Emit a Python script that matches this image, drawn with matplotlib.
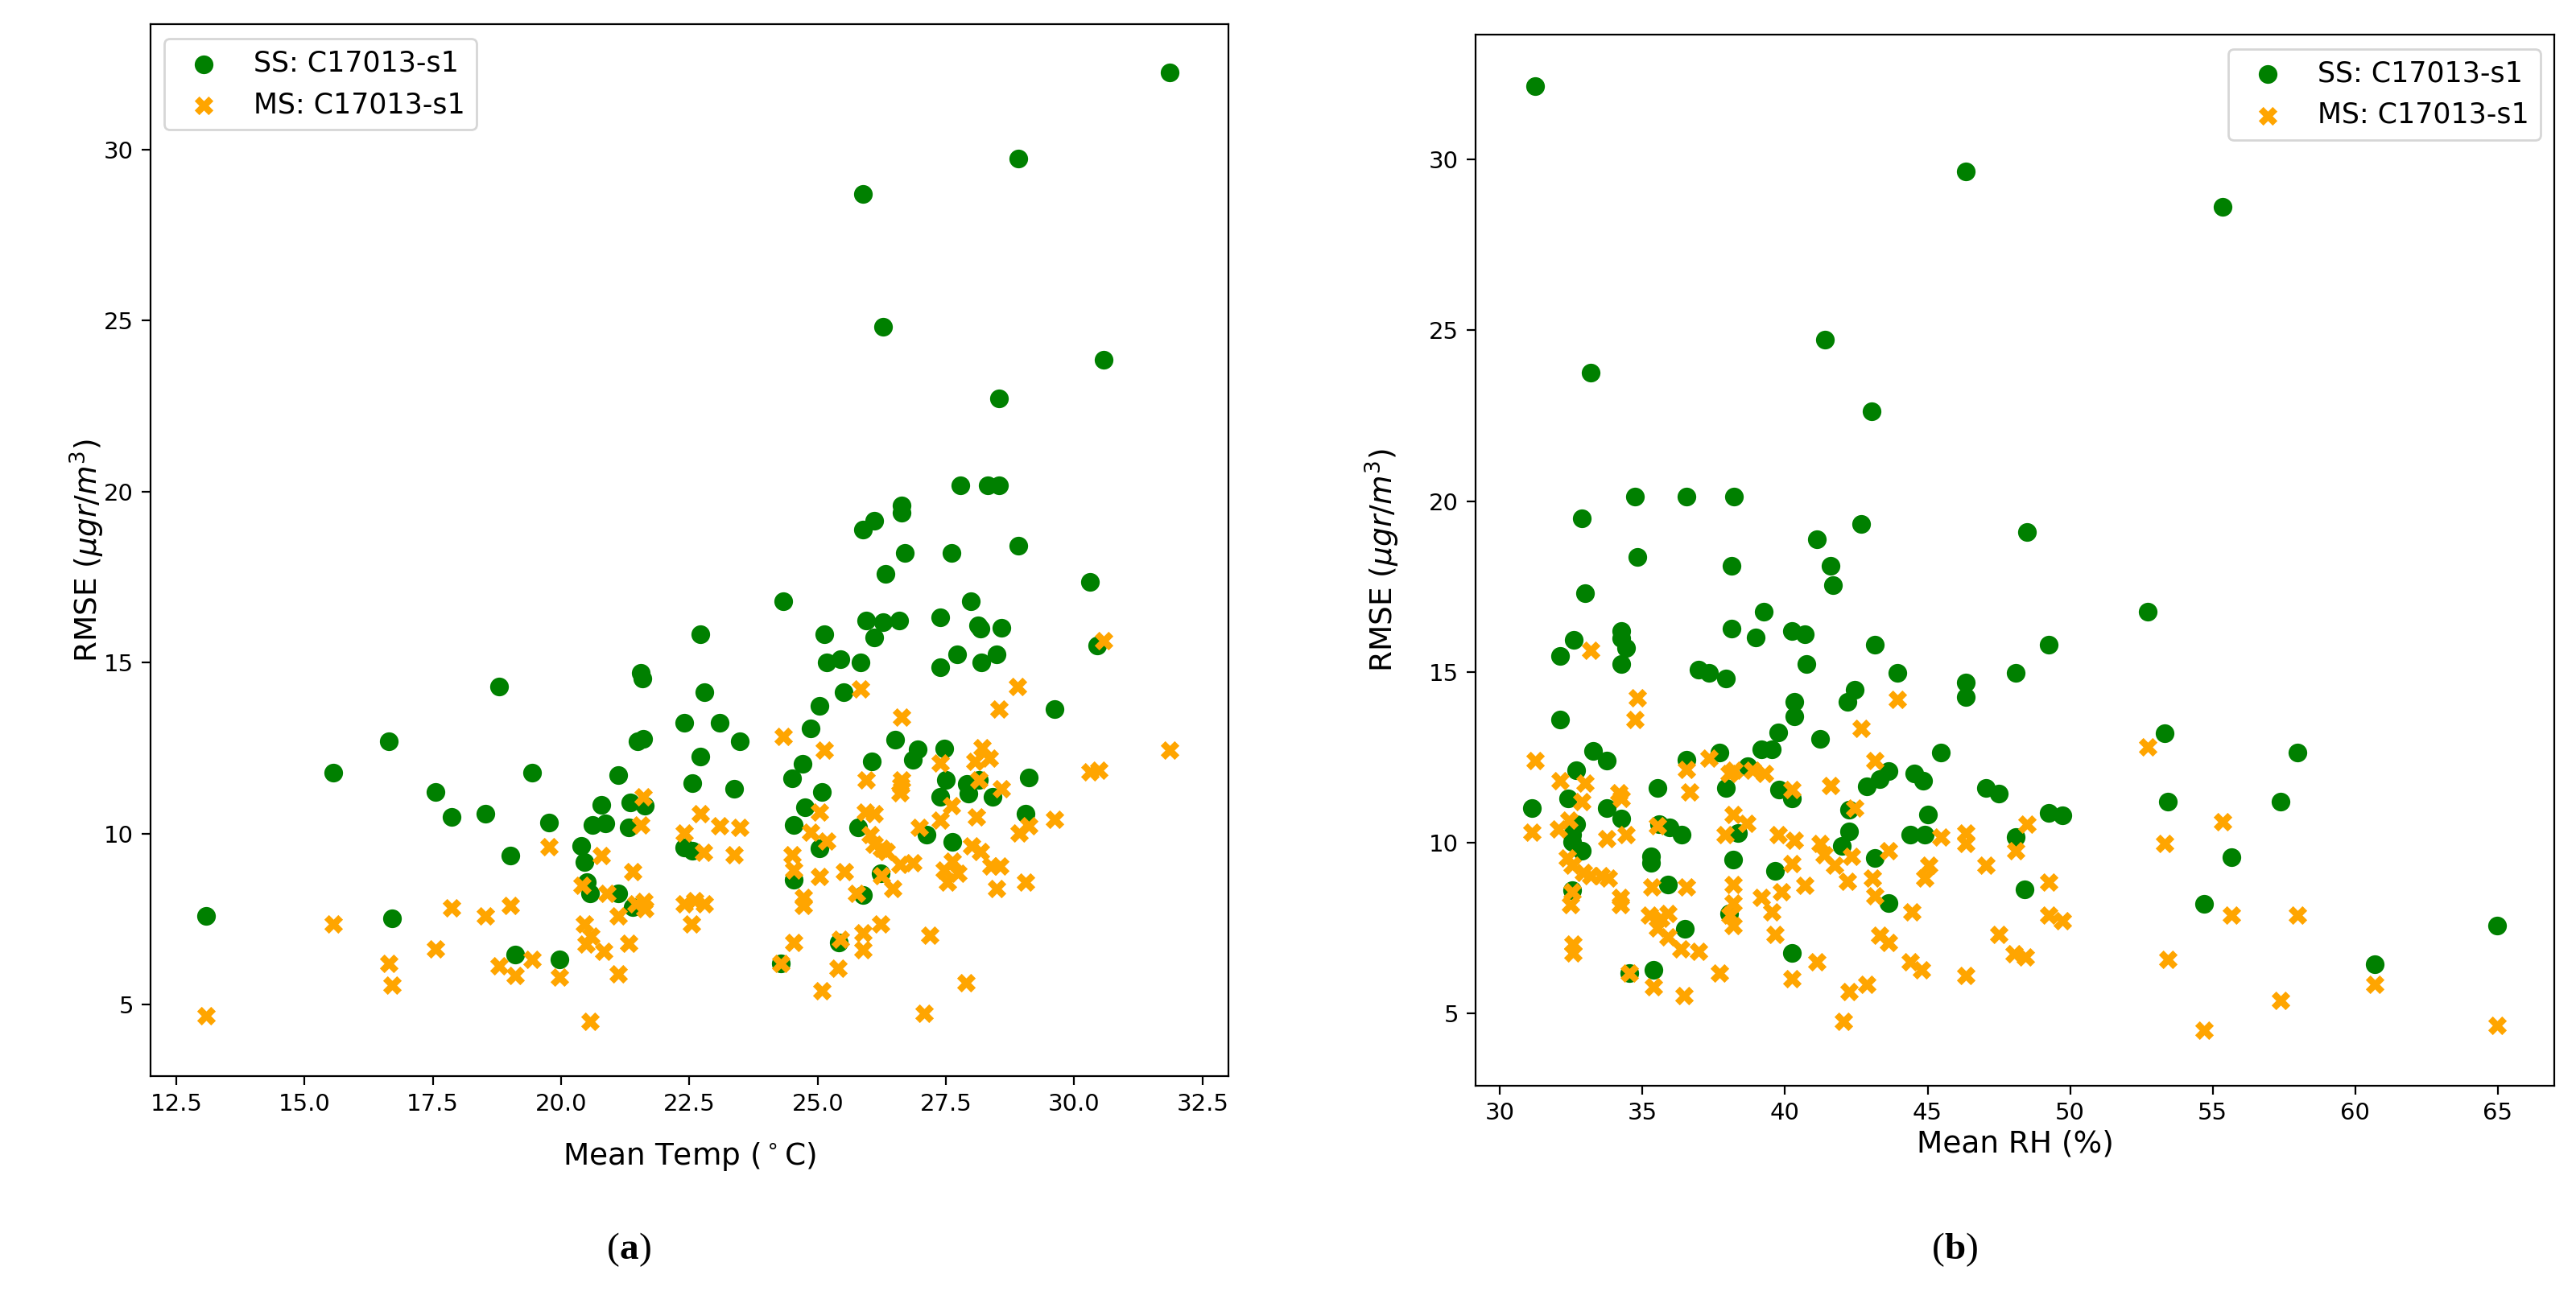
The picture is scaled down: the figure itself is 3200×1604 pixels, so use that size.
import matplotlib
matplotlib.use('Agg')
import matplotlib.pyplot as plt
from matplotlib.offsetbox import TextArea, HPacker, AnchoredOffsetbox

# (a) RMSE against mean temperature
temp_ss = [31.86, 28.91, 25.89, 26.27, 30.58, 28.53, 27.78, 28.31, 28.53, 26.64, 26.64, 26.11, 25.89, 26.70, 27.61, 28.91,
           26.32, 30.31, 24.33, 27.99, 25.95, 26.27, 26.59, 27.39, 28.12, 28.17, 28.58, 25.13, 26.10, 30.45, 25.18, 25.45,
           25.83, 27.72, 27.39, 28.19, 28.48, 25.50, 25.03, 23.09, 24.87, 23.48, 29.61, 26.51, 26.95, 26.86, 27.46, 24.70,
           24.50, 26.05, 23.37, 27.50, 27.39, 25.08, 27.93, 27.90, 28.14, 28.41, 29.11, 24.75, 24.53, 25.79, 25.04, 29.05,
           27.12, 27.63, 24.53, 26.23, 25.89, 25.42, 24.28,
           22.72, 21.55, 21.58, 18.80, 22.79, 22.40, 16.64, 21.49, 21.60, 22.72, 15.57, 19.43, 21.11, 22.56, 17.56, 21.35,
           21.63, 20.79, 17.87, 18.52, 19.76, 20.62, 20.86, 21.32, 20.39, 19.01, 20.46, 22.40, 22.56, 20.51, 20.57, 21.11,
           21.39, 13.09, 16.70, 19.11, 19.97]
rmse_ss_temp = [32.24, 29.74, 28.69, 24.81, 23.84, 22.71, 20.19, 20.19, 20.19, 19.58, 19.37, 19.15, 18.89, 18.20, 18.20, 18.42,
                17.59, 17.36, 16.80, 16.80, 16.22, 16.17, 16.22, 16.32, 16.08, 15.98, 16.01, 15.83, 15.73, 15.50, 15.01, 15.10,
                15.01, 15.25, 14.87, 15.01, 15.25, 14.14, 13.73, 13.25, 13.08, 12.69, 13.65, 12.75, 12.46, 12.16, 12.48, 12.04,
                11.61, 12.11, 11.32, 11.56, 11.07, 11.22, 11.17, 11.45, 11.56, 11.07, 11.63, 10.77, 10.26, 10.18, 9.58, 10.59,
                9.98, 9.76, 8.64, 8.84, 8.21, 6.81, 6.21,
                15.83, 14.69, 14.54, 14.29, 14.14, 13.25, 12.69, 12.69, 12.77, 12.26, 11.78, 11.78, 11.71, 11.47, 11.22, 10.91,
                10.81, 10.84, 10.49, 10.57, 10.33, 10.26, 10.30, 10.18, 9.63, 9.36, 9.18, 9.60, 9.50, 8.59, 8.24, 8.24,
                7.85, 7.60, 7.52, 6.46, 6.33]

temp_ms = [21.60, 22.72, 21.55, 22.40, 19.76, 20.79, 22.77, 21.39, 20.41, 20.90, 21.46, 21.63, 21.62, 22.40, 22.61, 22.79,
           17.87, 19.01, 18.52, 15.57, 21.11, 20.46, 22.54, 20.58, 20.48, 21.32, 17.56, 20.83, 16.64, 19.43, 18.80, 19.11,
           19.97, 16.70, 21.11, 13.09, 20.57,
           30.57, 25.83, 28.90, 28.53, 26.64, 24.33, 25.13, 31.86, 30.31, 30.48, 28.21, 28.07, 28.34, 27.39, 26.64, 26.62,
           26.61, 25.95, 28.14, 28.58, 27.61, 25.04, 25.93, 26.10, 23.09, 23.48, 26.98, 27.39, 28.10, 29.61, 29.12, 28.92,
           24.87, 25.18, 26.03, 26.10, 26.34, 26.25, 23.37, 24.50, 24.53, 28.00, 28.17, 26.61, 26.85, 25.52, 25.04, 27.46,
           27.63, 27.73, 27.53, 28.38, 28.55, 29.05, 26.47, 26.25, 28.48, 25.76, 24.72, 24.72, 26.23, 25.89, 25.89, 27.19,
           25.45, 24.53, 24.28, 25.40, 25.09, 27.89, 27.07]
rmse_ms_temp = [11.07, 10.59, 10.25, 10.01, 9.61, 9.36, 9.45, 8.89, 8.49, 8.24, 7.95, 7.80, 8.02, 7.95, 8.05, 7.95,
                7.82, 7.90, 7.60, 7.35, 7.60, 7.35, 7.35, 7.00, 6.76, 6.80, 6.63, 6.56, 6.21, 6.31, 6.13, 5.86,
                5.81, 5.57, 5.89, 4.67, 4.52,
                15.65, 14.22, 14.29, 13.65, 13.40, 12.83, 12.44, 12.43, 11.81, 11.86, 12.51, 12.11, 12.21, 12.06, 11.56, 11.40,
                11.20, 11.56, 11.56, 11.32, 10.82, 10.62, 10.62, 10.57, 10.23, 10.18, 10.18, 10.38, 10.49, 10.42, 10.23, 10.01,
                10.03, 9.78, 9.98, 9.68, 9.48, 9.58, 9.38, 9.38, 8.94, 9.63, 9.48, 9.09, 9.14, 8.89, 8.74, 8.94,
                9.19, 8.84, 8.59, 9.04, 9.04, 8.57, 8.39, 8.78, 8.39, 8.24, 8.14, 7.90, 7.35, 7.10, 6.61, 7.02,
                6.90, 6.81, 6.21, 6.06, 5.40, 5.64, 4.74]

# (b) RMSE against mean relative humidity
rh_ss = [31.22, 46.35, 41.41, 33.17, 43.05, 34.73, 36.55, 38.22, 32.88, 42.67, 41.12,
         55.36, 48.49, 52.73, 49.25, 48.09, 53.33, 57.98, 47.04, 47.50, 53.42, 57.39, 49.25, 49.74, 48.09, 55.65, 48.39,
         54.69, 60.69, 64.97,
         34.81, 38.12, 41.60, 41.69, 32.98, 39.26, 34.25, 34.25, 34.43, 34.25, 32.58, 32.10, 38.12, 38.97, 40.24, 40.68,
         43.14, 40.74, 36.96, 37.33, 37.93, 43.93, 46.35, 46.35, 42.19, 42.44, 40.32, 40.32, 32.10, 41.22, 33.27, 33.74,
         37.71, 36.55, 39.77, 39.54, 39.16, 45.47, 38.68, 32.67, 43.64, 43.32, 42.86, 44.52, 44.84, 35.51, 37.93, 39.79,
         40.24, 32.38, 31.13, 33.74, 34.25, 42.25, 45.00, 32.67, 32.54, 32.54, 32.86, 35.57, 35.95, 36.37, 38.34, 42.25,
         42.00, 44.40, 44.90, 35.29, 35.29, 38.19, 43.14, 39.64, 35.89, 32.52, 43.64, 38.03, 36.49, 40.24, 35.38, 34.54]
rmse_ss_rh = [32.14, 29.65, 24.74, 23.77, 22.63, 20.14, 20.14, 20.14, 19.50, 19.34, 18.88,
              28.61, 19.11, 16.76, 15.80, 14.98, 13.21, 12.65, 11.60, 11.44, 11.20, 11.20, 10.88, 10.80, 10.18, 9.58, 8.63,
              8.21, 6.46, 7.57,
              18.36, 18.12, 18.12, 17.55, 17.31, 16.76, 16.21, 16.00, 15.71, 15.24, 15.95, 15.46, 16.27, 16.02, 16.21, 16.11,
              15.79, 15.24, 15.06, 14.98, 14.82, 14.98, 14.69, 14.27, 14.12, 14.48, 14.12, 13.70, 13.60, 13.05, 12.70, 12.42,
              12.65, 12.44, 13.23, 12.73, 12.73, 12.65, 12.25, 12.12, 12.11, 11.86, 11.65, 12.02, 11.81, 11.60, 11.60, 11.55,
              11.29, 11.29, 11.03, 11.03, 10.71, 10.97, 10.82, 10.55, 10.24, 10.03, 9.77, 10.55, 10.45, 10.24, 10.29, 10.34,
              9.92, 10.24, 10.24, 9.61, 9.41, 9.51, 9.56, 9.19, 8.79, 8.61, 8.25, 7.93, 7.48, 6.78, 6.28, 6.20]

rh_ms = [52.73, 48.49, 55.36, 53.33, 48.09, 47.04, 49.25, 47.50, 49.25, 49.74, 55.65, 57.98, 48.03, 48.42, 53.42, 57.39,
         60.69, 54.69, 64.97,
         33.17, 34.81, 34.72, 43.93, 42.67, 31.22, 37.33, 43.14, 36.55, 38.03, 38.22, 38.85, 39.29, 32.10, 32.98, 34.18,
         34.25, 36.64, 40.24, 41.60, 32.88, 42.44, 32.42, 32.04, 31.13, 35.51, 38.19, 38.66, 37.90, 33.74, 34.43, 39.77,
         40.32, 41.24, 41.37, 41.75, 45.47, 46.35, 46.35, 42.32, 43.64, 32.35, 32.54, 32.92, 33.17, 33.55, 33.80, 45.03,
         44.90, 40.24, 43.07, 43.14, 42.19, 40.68, 32.52, 32.48, 34.22, 34.22, 35.32, 36.55, 38.19, 39.86, 39.16, 39.54,
         38.19, 38.07, 38.19, 35.25, 35.63, 35.89, 35.51, 35.89, 44.46, 36.33, 36.96, 39.64, 32.57, 32.57, 43.32, 43.64,
         44.40, 44.78, 41.12, 37.71, 34.54, 40.24, 46.35, 35.38, 36.45, 42.25, 42.86, 42.06]
rmse_ms_rh = [12.81, 10.54, 10.62, 9.98, 9.78, 9.35, 8.85, 7.31, 7.89, 7.73, 7.89, 7.89, 6.76, 6.66, 6.60, 5.40,
              5.86, 4.51, 4.66,
              15.64, 14.25, 13.60, 14.20, 13.36, 12.41, 12.49, 12.41, 12.15, 12.04, 12.12, 12.12, 12.02, 11.83, 11.76, 11.47,
              11.29, 11.50, 11.55, 11.67, 11.20, 11.03, 10.66, 10.40, 10.32, 10.50, 10.82, 10.57, 10.24, 10.13, 10.24, 10.24,
              10.08, 9.98, 9.66, 9.35, 10.16, 10.29, 9.98, 9.61, 9.77, 9.56, 9.35, 9.14, 9.03, 9.03, 8.98, 9.35,
              8.98, 9.40, 8.98, 8.46, 8.88, 8.75, 8.56, 8.19, 8.40, 8.19, 8.72, 8.72, 8.77, 8.56, 8.40, 7.99,
              8.25, 7.88, 7.57, 7.88, 7.78, 7.93, 7.51, 7.25, 7.99, 6.89, 6.83, 7.33, 7.04, 6.78, 7.30, 7.09,
              6.52, 6.28, 6.52, 6.20, 6.20, 6.03, 6.13, 5.79, 5.54, 5.65, 5.86, 4.77]

label_ss = 'SS: C17013-s1'
label_ms = 'MS: C17013-s1'

fig = plt.figure(figsize=(16, 8.02), dpi=200)
ax1 = fig.add_axes([0.0584, 0.1662, 0.4184, 0.8148])
ax2 = fig.add_axes([0.5727, 0.1592, 0.4190, 0.8138])

# axes, data, x label, x limits, legend corner, x-label pad, y-label pad
panels = [
    (ax1, temp_ss, rmse_ss_temp, temp_ms, rmse_ms_temp, r'Mean Temp ($^\circ$C)', (12.0, 33.0), 'upper left', 11, -1),
    (ax2, rh_ss, rmse_ss_rh, rh_ms, rmse_ms_rh, 'Mean RH (%)', (29.13, 67.0), 'upper right', 2, 12),
]

for ax, xs, ys, xm, ym, xlab, xlim, loc, xpad, ypad in panels:
    ax.scatter(xs, ys, s=70, c='green', marker='o', linewidths=0, label=label_ss)
    ax.scatter(xm, ym, s=70, c='orange', marker='X', linewidths=0, label=label_ms)
    ax.set_xlim(*xlim)
    ax.set_ylim(2.9, 33.65)
    ax.set_yticks([5, 10, 15, 20, 25, 30])
    ax.set_xlabel(xlab, fontsize=13.5, labelpad=xpad)
    ax.set_ylabel(r'RMSE ($\mu gr/m^3$)', fontsize=13.5, labelpad=ypad)
    ax.tick_params(labelsize=10.5, length=4)
    ax.legend(loc=loc, fontsize=12.5)

ax1.set_xticks([12.5, 15.0, 17.5, 20.0, 22.5, 25.0, 27.5, 30.0, 32.5])
ax2.set_xticks([30, 35, 40, 45, 50, 55, 60, 65])

# sub-figure captions "(a)" and "(b)" with bold letter
for letter, xpos in [('a', 0.2443), ('b', 0.759)]:
    props = dict(family='Liberation Serif', size=17)
    parts = [TextArea('(', textprops=props),
             TextArea(letter, textprops=dict(props, weight='bold')),
             TextArea(')', textprops=props)]
    box = HPacker(children=parts, align='baseline', pad=0, sep=0)
    anchored = AnchoredOffsetbox(loc='center', child=box, pad=0, borderpad=0, frameon=False,
                                 bbox_to_anchor=(xpos, 0.032), bbox_transform=fig.transFigure)
    fig.add_artist(anchored)

fig.savefig('out.png', dpi=200, facecolor='white')
